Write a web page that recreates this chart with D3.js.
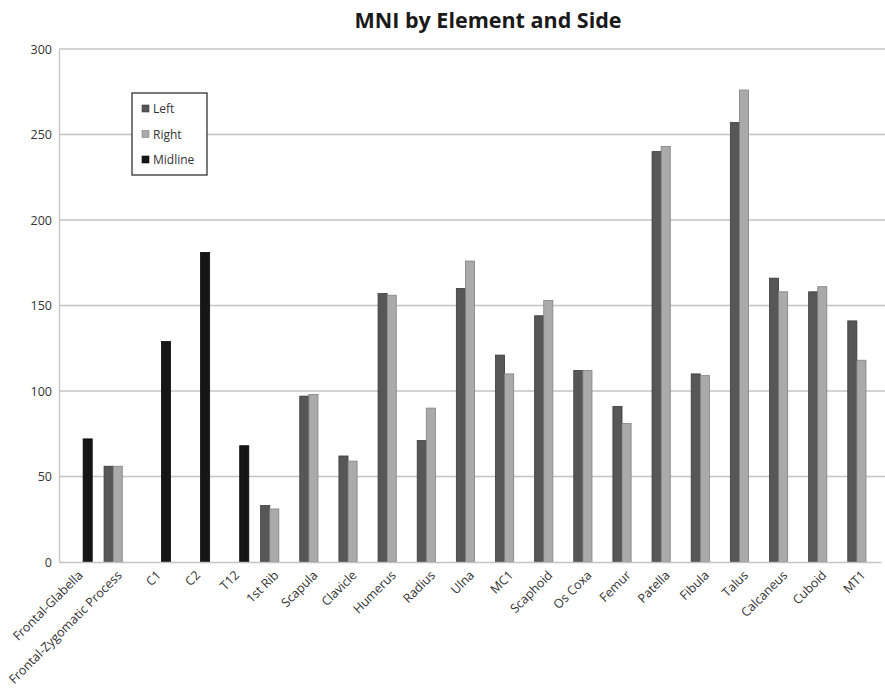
<!DOCTYPE html>
<html>
<head>
<meta charset="utf-8">
<script src="https://cdn.jsdelivr.net/npm/d3@7"></script>
<style>
  html, body { margin: 0; padding: 0; background: #fff; }
  svg { display: block; }
  svg text { font-family: "Open Sans", "Liberation Sans", sans-serif; }
</style>
</head>
<body>
<svg id="chart" width="885" height="689"></svg>
<script>
// Elements along the x axis
const categories = ["Frontal-Glabella", "Frontal-Zygomatic Process", "C1", "C2", "T12", "1st Rib",
  "Scapula", "Clavicle", "Humerus", "Radius", "Ulna", "MC1", "Scaphoid", "Os Coxa", "Femur",
  "Patella", "Fibula", "Talus", "Calcaneus", "Cuboid", "MT1"];

// MNI counts per side (null = not counted for that side)
const leftValues    = [null, 56, null, null, null, 33, 97, 62, 157, 71, 160, 121, 144, 112, 91, 240, 110, 257, 166, 158, 141];
const rightValues   = [null, 56, null, null, null, 31, 98, 59, 156, 90, 176, 110, 153, 112, 81, 243, 109, 276, 158, 161, 118];
const midlineValues = [72, null, 129, 181, 68, null, null, null, null, null, null, null, null, null, null, null, null, null, null, null, null];

const seriesNames = ["Left", "Right", "Midline"];
const yTicks = [0, 50, 100, 150, 200, 250, 300];

const seriesFill   = { Left: "#575757", Right: "#aaaaaa", Midline: "#161616" };
const seriesStroke = { Left: "#3a3a3a", Right: "#808080", Midline: "#0a0a0a" };

const svg = d3.select("#chart");
const margin = { left: 59, right: 4, top: 49, bottom: 127 };
const W = 885, H = 689;

const x = d3.scaleBand().domain(categories).range([margin.left, W - margin.right]);
const barW = x.bandwidth() / 4.3;
const xs = d3.scaleBand().domain(seriesNames)
  .range([-1.5 * barW, 1.5 * barW]);
const y = d3.scaleLinear().domain([0, 300]).range([H - margin.bottom, margin.top]);

// Gridlines
svg.append("g")
  .selectAll("line")
  .data(yTicks.filter(t => t > 0))
  .join("line")
  .attr("x1", margin.left).attr("x2", W)
  .attr("y1", d => y(d)).attr("y2", d => y(d))
  .attr("stroke", "#c4c4c4").attr("stroke-width", 1.3);

// Y axis
const yAxis = svg.append("g")
  .attr("transform", `translate(${margin.left},0)`)
  .call(d3.axisLeft(y).tickValues(yTicks).tickSize(0).tickPadding(7));
yAxis.attr("font-family", null).attr("font-size", null);
yAxis.select(".domain").attr("stroke", "#c4c4c4").attr("stroke-width", 1.3);
yAxis.selectAll("text").attr("font-size", 12.5).attr("fill", "#333");

// Bars
const rows = [];
categories.forEach((c, i) => {
  [["Left", leftValues[i]], ["Right", rightValues[i]], ["Midline", midlineValues[i]]]
    .forEach(([s, v]) => { if (v != null) rows.push({ c, s, v }); });
});

svg.append("g")
  .selectAll("rect")
  .data(rows)
  .join("rect")
  .attr("x", d => x(d.c) + x.bandwidth() / 2 + xs(d.s))
  .attr("y", d => y(d.v))
  .attr("width", xs.bandwidth())
  .attr("height", d => y(0) - y(d.v))
  .attr("fill", d => seriesFill[d.s])
  .attr("stroke", d => seriesStroke[d.s])
  .attr("stroke-width", 0.8);

// X axis
const xAxis = svg.append("g")
  .attr("transform", `translate(0,${y(0)})`)
  .call(d3.axisBottom(x).tickSize(0).tickPadding(0));
xAxis.attr("font-family", null).attr("font-size", null);
xAxis.select(".domain").attr("stroke", "#c4c4c4").attr("stroke-width", 1.3);
xAxis.selectAll("text")
  .attr("font-size", 12.5)
  .attr("fill", "#333")
  .attr("text-anchor", "end")
  .attr("dy", null)
  .attr("transform", "translate(5,14) rotate(-45)");

// Title
svg.append("text")
  .attr("x", 488).attr("y", 28)
  .attr("text-anchor", "middle")
  .attr("font-size", 21.5)
  .attr("font-weight", "bold")
  .attr("fill", "#1a1a1a")
  .text("MNI by Element and Side");

// Legend
const lg = svg.append("g").attr("transform", "translate(132,93)");
lg.append("rect")
  .attr("width", 75).attr("height", 82)
  .attr("fill", "#fff").attr("stroke", "#333").attr("stroke-width", 1.3);
seriesNames.forEach((s, i) => {
  const g = lg.append("g").attr("transform", `translate(10,${16 + i * 25.5})`);
  g.append("rect")
    .attr("x", 0).attr("y", -4).attr("width", 7).attr("height", 7)
    .attr("fill", seriesFill[s]).attr("stroke", seriesStroke[s]).attr("stroke-width", 0.6);
  g.append("text")
    .attr("x", 11).attr("y", 4)
    .attr("font-size", 12).attr("fill", "#333")
    .text(s);
});
</script>
</body>
</html>
